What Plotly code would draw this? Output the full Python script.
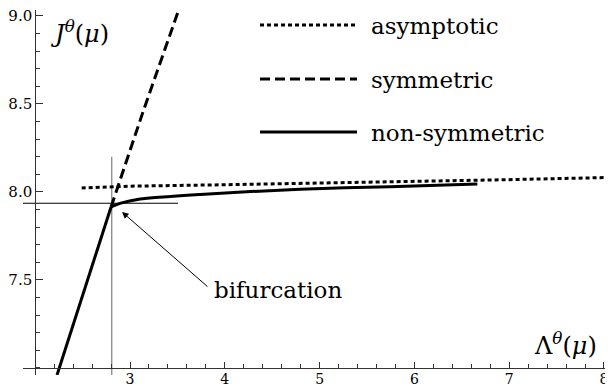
import plotly.graph_objects as go

# ---- data ----
asym_lambda = [2.49, 3.0, 4.0, 5.0, 6.0, 7.0, 8.1]
asym_J = [8.023, 8.033, 8.041, 8.050, 8.060, 8.070, 8.083]

lower_lambda = [2.23, 2.80]
lower_J = [6.96, 7.915]

sym_lambda = [2.80, 3.14, 3.53]
sym_J = [7.915, 8.46, 9.06]

nonsym_lambda = [2.80, 2.894, 3.106, 3.739, 4.795, 5.743, 6.664]
nonsym_J = [7.915, 7.935, 7.960, 7.986, 8.016, 8.030, 8.045]

bif_lambda = 2.807
bif_J = 7.936
vline_J = [6.96, 8.2]
hline_lambda = [1.871, 3.507]

x_ticks = [3, 4, 5, 6, 7, 8]
x_ticktext = ["3", "4", "5", "6", "7", "8"]
y_ticks = [7.5, 8.0, 8.5, 9.0]
y_ticktext = ["7.5", "8.0", "8.5", "9.0"]

legend_names = ["asymptotic", "symmetric", "non-symmetric"]
legend_dashes = ["4px,3px", "10px,5px", "solid"]

x_range = [1.871, 8.095]
y_range = [6.96, 9.034]
x_origin = 2.0
y_origin = 7.0

SERIF = "DejaVu Serif"
INK = "black"
AX = "#333333"

fig = go.Figure()

fig.add_trace(go.Scatter(x=[bif_lambda, bif_lambda], y=vline_J, mode="lines",
                         line=dict(color="#888888", width=1.3), hoverinfo="skip"))
fig.add_trace(go.Scatter(x=hline_lambda, y=[bif_J, bif_J], mode="lines",
                         line=dict(color="black", width=1), hoverinfo="skip"))

fig.add_trace(go.Scatter(x=asym_lambda, y=asym_J, mode="lines", name=legend_names[0],
                         line=dict(color=INK, width=3, dash=legend_dashes[0])))
fig.add_trace(go.Scatter(x=sym_lambda, y=sym_J, mode="lines", name=legend_names[1],
                         line=dict(color=INK, width=3, dash=legend_dashes[1])))
fig.add_trace(go.Scatter(x=lower_lambda, y=lower_J, mode="lines",
                         line=dict(color=INK, width=3), hoverinfo="skip"))
fig.add_trace(go.Scatter(x=nonsym_lambda, y=nonsym_J, mode="lines", name=legend_names[2],
                         line=dict(color=INK, width=3, shape="spline", smoothing=0.6)))

# ---- legend drawn as long line samples + text (paper coords of plot area) ----
leg_x0, leg_x1, leg_tx = 0.4017, 0.5661, 0.5864
leg_rows = [0.9589, 0.8110, 0.6658]
for name, dash, yy in zip(legend_names, legend_dashes, leg_rows):
    fig.add_shape(type="line", xref="paper", yref="paper", x0=leg_x0, x1=leg_x1,
                  y0=yy, y1=yy, line=dict(color=INK, width=3, dash=dash))
    fig.add_annotation(xref="paper", yref="paper", x=leg_tx, y=yy - 0.002, text=name,
                       showarrow=False, xanchor="left", yanchor="middle",
                       font=dict(family=SERIF, size=23, color=INK))

# axis labels
fig.add_annotation(xref="paper", yref="paper", x=0.0966, y=0.9400,
                   text="<i>J</i><sup><i>θ</i></sup>(<i>μ</i>)", showarrow=False,
                   xanchor="center", yanchor="middle",
                   font=dict(family=SERIF, size=24, color=INK))
fig.add_annotation(xref="paper", yref="paper", x=0.9203, y=0.0850,
                   text="Λ<sup><i>θ</i></sup>(<i>μ</i>)", showarrow=False,
                   xanchor="center", yanchor="middle",
                   font=dict(family=SERIF, size=24, color=INK))

# bifurcation arrow + label
fig.add_annotation(x=2.916, y=7.886, ax=3.833, ay=7.455, axref="x", ayref="y",
                   text="", showarrow=True, arrowhead=2, arrowsize=1.3,
                   arrowwidth=1, arrowcolor=INK, standoff=0)
fig.add_annotation(x=3.865, y=7.443, text="bifurcation", showarrow=False,
                   xanchor="left", yanchor="middle",
                   font=dict(family=SERIF, size=23, color=INK))

fig.update_layout(
    width=613, height=388,
    margin=dict(l=15, r=8, t=2, b=21, autoexpand=False),
    plot_bgcolor="white", paper_bgcolor="white",
    showlegend=False,
    font=dict(family=SERIF, color=INK),
    xaxis=dict(range=x_range, anchor="free", automargin=False,
               position=(y_origin - y_range[0]) / (y_range[1] - y_range[0]),
               showgrid=False, zeroline=False, showline=True, linecolor=AX, linewidth=1,
               ticks="inside", ticklen=6, tickcolor=AX, tickwidth=1,
               tickvals=x_ticks, ticktext=x_ticktext, ticklabeloverflow="allow",
               ticklabelstandoff=-2,
               tickfont=dict(family=SERIF, size=14, color=INK),
               minor=dict(ticks="inside", ticklen=4, tickcolor=AX, dtick=0.2, tick0=2,
                          showgrid=False)),
    yaxis=dict(range=y_range, anchor="free", automargin=False,
               position=(x_origin - x_range[0]) / (x_range[1] - x_range[0]),
               showgrid=False, zeroline=False, showline=True, linecolor=AX, linewidth=1,
               ticks="inside", ticklen=7, tickcolor=AX, tickwidth=1,
               tickvals=y_ticks, ticktext=y_ticktext, ticklabeloverflow="allow",
               tickfont=dict(family=SERIF, size=15, color=INK),
               minor=dict(ticks="inside", ticklen=4, tickcolor=AX, dtick=0.1, tick0=7,
                          showgrid=False)),
)

fig.write_html("out.html")
